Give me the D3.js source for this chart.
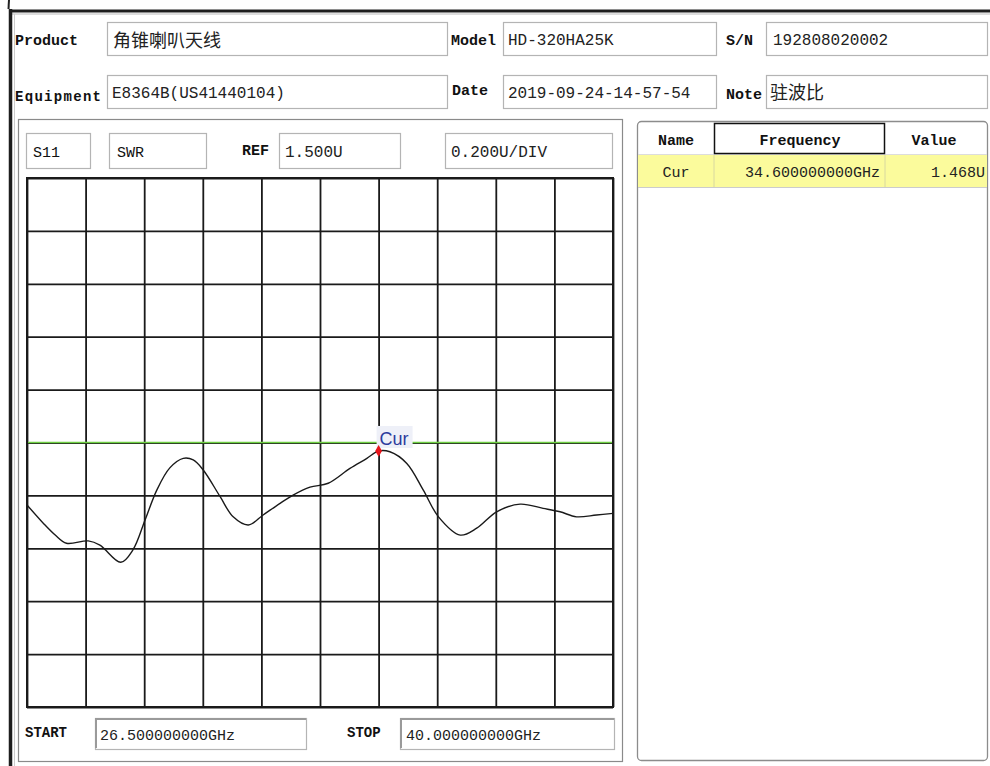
<!DOCTYPE html>
<html><head><meta charset="utf-8">
<script src="https://cdn.jsdelivr.net/npm/d3@7"></script>
<style>html,body{margin:0;padding:0;background:#fff;}svg{display:block;}</style>
</head><body>
<div id="chart"></div>
<script>
// ---- data ----
const freqGHz = [26.50, 26.88, 27.15, 27.41, 27.91, 28.18, 28.66, 28.94, 29.22, 29.49, 29.79, 30.10, 30.33, 30.56, 30.95, 31.25, 31.60, 31.94, 32.33, 32.63, 33.02, 33.44, 33.94, 34.33, 34.60, 34.86, 35.25, 35.63, 35.98, 36.48, 36.86, 37.32, 37.86, 38.39, 38.78, 39.16, 39.62, 40.00];
const swrValue = [1.264, 1.194, 1.150, 1.119, 1.128, 1.112, 1.047, 1.094, 1.207, 1.320, 1.404, 1.440, 1.434, 1.396, 1.295, 1.219, 1.188, 1.226, 1.270, 1.301, 1.331, 1.346, 1.402, 1.440, 1.468, 1.465, 1.421, 1.320, 1.219, 1.150, 1.176, 1.238, 1.267, 1.251, 1.238, 1.219, 1.226, 1.232];
const startGHz = 26.5, stopGHz = 40.0;
const refValue = 1.5, perDiv = 0.2, divisions = 10;
const limitValue = 1.5;
const markerName = ["Cur"];
const markerFreq = [34.6];
const markerValue = [1.468];
const infoLabels = ["Product", "Equipment", "Model", "Date", "S/N", "Note"];
const infoValues = ["角锥喇叭天线", "E8364B(US41440104)", "HD-320HA25K", "2019-09-24-14-57-54", "192808020002", "驻波比"];
const tableHeaders = ["Name", "Frequency", "Value"];

// ---- setup ----
const W = 990, H = 766;
const mono = "'Liberation Mono','DejaVu Sans Mono',monospace";
const cjk = "'Noto Sans CJK SC','Noto Sans',sans-serif";
const svg = d3.select("#chart").append("svg").attr("width", W).attr("height", H);
svg.append("rect").attr("width", W).attr("height", H).attr("fill", "#fff");

// outer window frame
svg.append("line").attr("x1", 9).attr("x2", 8.5).attr("y1", 0).attr("y2", 9).attr("stroke", "#222").attr("stroke-width", 2);
svg.append("line").attr("x1", 9).attr("x2", W).attr("y1", 11).attr("y2", 11).attr("stroke", "#1e1e1e").attr("stroke-width", 3);
svg.append("line").attr("x1", 12).attr("x2", W).attr("y1", 14).attr("y2", 14).attr("stroke", "#bbb").attr("stroke-width", 1);
svg.append("line").attr("x1", 10.5).attr("x2", 10.5).attr("y1", 9).attr("y2", H).attr("stroke", "#1e1e1e").attr("stroke-width", 3.5);
svg.append("line").attr("x1", 14.5).attr("x2", 14.5).attr("y1", 14).attr("y2", H).attr("stroke", "#ccc").attr("stroke-width", 1);

function box(x, y, w, h) {
  svg.append("rect").attr("x", x + 0.5).attr("y", y + 0.5).attr("width", w).attr("height", h)
    .attr("fill", "#fff").attr("stroke", "#b4b4b4").attr("stroke-width", 1.2);
}
function label(x, y, t, opts = {}) {
  return svg.append("text").attr("x", x).attr("y", y).text(t)
    .attr("font-family", opts.family || mono).attr("font-size", opts.size || 15)
    .attr("font-weight", opts.weight || "bold").attr("fill", opts.fill || "#111")
    .attr("text-anchor", opts.anchor || "start");
}

// info fields
const infoLayout = [
  {lx: 15, ly: 45, bx: 107, by: 22, bw: 340, vx: 113, vy: 47, cjk: true},
  {lx: 15, ly: 101, bx: 107, by: 75, bw: 340, vx: 112, vy: 98},
  {lx: 451, ly: 45, bx: 503, by: 22, bw: 213, vx: 508, vy: 45},
  {lx: 452, ly: 95, bx: 503, by: 75, bw: 213, vx: 508, vy: 98},
  {lx: 726, ly: 45, bx: 766, by: 22, bw: 221, vx: 773, vy: 45},
  {lx: 726, ly: 99, bx: 766, by: 75, bw: 221, vx: 770, vy: 99, cjk: true}
];
infoLayout.forEach((L, i) => {
  box(L.bx, L.by, L.bw, 33);
  const lt = label(L.lx, L.ly, infoLabels[i], {size: i === 1 ? 14 : 15});
  if (i === 1) lt.attr("textLength", 86);
  if (L.cjk) label(L.vx, L.vy, infoValues[i], {family: cjk, size: 18, weight: "normal", fill: "#222"});
  else label(L.vx, L.vy, infoValues[i], {size: 16, weight: "normal", fill: "#222"});
});

// left panel
svg.append("rect").attr("x", 18.5).attr("y", 119.5).attr("width", 604).attr("height", 642)
  .attr("fill", "none").attr("stroke", "#8a8a8a").attr("stroke-width", 1.2);
box(26, 133, 64, 35); label(33, 157, "S11", {size: 15, weight: "normal"});
box(109, 133, 97, 35); label(117, 157, "SWR", {size: 15, weight: "normal"});
label(242, 155, "REF", {size: 15});
box(279, 133, 121, 35); label(285, 157, d3.format(".3f")(refValue) + "U", {size: 16, weight: "normal", fill: "#222"});
box(445, 133, 167, 35); label(451, 157, d3.format(".3f")(perDiv) + "U/DIV", {size: 16, weight: "normal", fill: "#222"});

// plot
const px0 = 27, px1 = 613, py0 = 178, py1 = 707;
const x = d3.scaleLinear().domain([startGHz, stopGHz]).range([px0, px1]);
const yMin = refValue - perDiv * divisions / 2, yMax = refValue + perDiv * divisions / 2;
const y = d3.scaleLinear().domain([yMin, yMax]).range([py1, py0]);
const xTicks = d3.range(divisions + 1).map(i => startGHz + i * (stopGHz - startGHz) / divisions);
const yTicks = d3.range(divisions + 1).map(i => yMin + i * perDiv);

const g = svg.append("g");
g.append("g").attr("transform", `translate(0,${py1})`)
  .call(d3.axisBottom(x).tickValues(xTicks).tickSize(-(py1 - py0)).tickFormat(""))
  .call(s => s.select(".domain").remove())
  .selectAll("line").attr("stroke", "#1a1a1a").attr("stroke-width", 1.8);
g.append("g").attr("transform", `translate(${px0},0)`)
  .call(d3.axisLeft(y).tickValues(yTicks).tickSize(-(px1 - px0)).tickFormat(""))
  .call(s => s.select(".domain").remove())
  .selectAll("line").attr("stroke", "#1a1a1a").attr("stroke-width", 1.8);
g.append("rect").attr("x", px0).attr("y", py0).attr("width", px1 - px0).attr("height", py1 - py0)
  .attr("fill", "none").attr("stroke", "#1a1a1a").attr("stroke-width", 2);

// limit line
g.append("line").attr("x1", px0 + 1).attr("x2", px1 - 1).attr("y1", y(limitValue)).attr("y2", y(limitValue))
  .attr("stroke", "#6fd043").attr("stroke-width", 1.5);

// trace
const lineGen = d3.line().x((d, i) => x(freqGHz[i])).y((d, i) => y(swrValue[i])).curve(d3.curveCatmullRom.alpha(0.5));
g.append("path").datum(swrValue).attr("d", lineGen).attr("fill", "none")
  .attr("stroke", "#1a1a1a").attr("stroke-width", 1.4);

// marker
markerName.forEach((n, i) => {
  const mx = x(markerFreq[i]), my = y(markerValue[i]);
  g.append("rect").attr("x", mx - 2).attr("y", my - 25).attr("width", 36).attr("height", 22).attr("fill", "#eef0f8");
  g.append("text").attr("x", mx + 1).attr("y", my - 6).text(n)
    .attr("font-family", "'Liberation Sans',Arial,sans-serif").attr("font-size", 18).attr("fill", "#2c3a9c");
  g.append("path").attr("d", d3.symbol(d3.symbolDiamond, 40)()).attr("transform", `translate(${mx},${my})`).attr("fill", "#e8141b");
});

// bottom fields
label(25, 737, "START", {size: 14});
box(95, 718, 211, 31);
svg.append("path").attr("d", "M96,748 V719 H306").attr("fill", "none").attr("stroke", "#9a9a9a").attr("stroke-width", 2);
label(100, 740, d3.format(".9f")(startGHz) + "GHz", {size: 15, weight: "normal", fill: "#222"});
label(347, 737, "STOP", {size: 14});
box(400, 718, 214, 31);
svg.append("path").attr("d", "M401,748 V719 H614").attr("fill", "none").attr("stroke", "#9a9a9a").attr("stroke-width", 2);
label(406, 740, d3.format(".9f")(stopGHz) + "GHz", {size: 15, weight: "normal", fill: "#222"});

// right panel table
svg.append("rect").attr("x", 637.5).attr("y", 121.5).attr("width", 350).attr("height", 639).attr("rx", 4)
  .attr("fill", "#fff").attr("stroke", "#8c8c8c").attr("stroke-width", 1.3);
svg.append("rect").attr("x", 638).attr("y", 155).attr("width", 349).attr("height", 32).attr("fill", "#fbfb9c");
[714, 885].forEach(cx => svg.append("line").attr("x1", cx).attr("x2", cx).attr("y1", 155).attr("y2", 187).attr("stroke", "#d8d8a0"));
svg.append("line").attr("x1", 638).attr("x2", 987).attr("y1", 187.5).attr("y2", 187.5).attr("stroke", "#ccc");
svg.append("line").attr("x1", 638).attr("x2", 987).attr("y1", 154.5).attr("y2", 154.5).attr("stroke", "#ddd");
svg.append("rect").attr("x", 714.5).attr("y", 123.5).attr("width", 170).attr("height", 30)
  .attr("fill", "none").attr("stroke", "#111").attr("stroke-width", 1.5);
label(676, 145, tableHeaders[0], {size: 15, anchor: "middle"});
label(800, 145, tableHeaders[1], {size: 15, anchor: "middle"});
label(934, 145, tableHeaders[2], {size: 15, anchor: "middle"});
markerName.forEach((n, i) => {
  const ry = 177 + i * 32;
  label(676, ry, n, {size: 15, weight: "normal", anchor: "middle", fill: "#222"});
  label(880, ry, d3.format(".9f")(markerFreq[i]) + "GHz", {size: 15, weight: "normal", anchor: "end", fill: "#222"});
  label(985, ry, d3.format(".3f")(markerValue[i]) + "U", {size: 15, weight: "normal", anchor: "end", fill: "#222"});
});
</script>
</body></html>
